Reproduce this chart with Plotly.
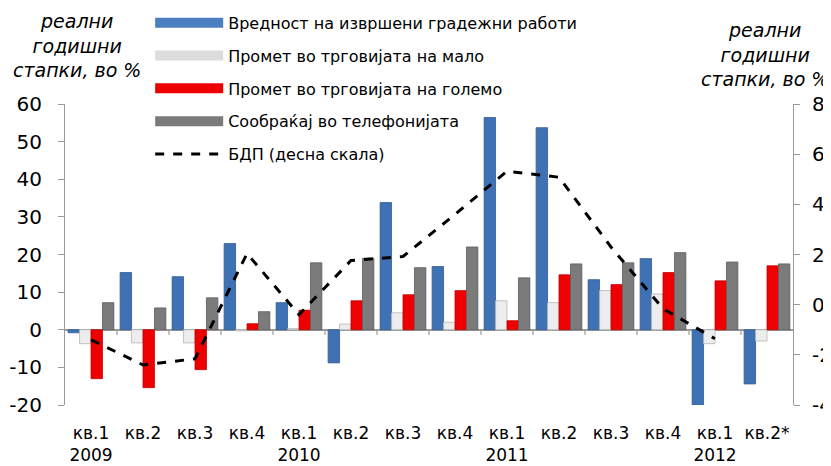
import plotly.graph_objects as go

categories = ["кв.1<br>2009", "кв.2", "кв.3", "кв.4", "кв.1<br>2010", "кв.2", "кв.3", "кв.4",
              "кв.1<br>2011", "кв.2", "кв.3", "кв.4", "кв.1<br>2012", "кв.2*"]
cat_ids = [f"c{i}" for i in range(len(categories))]

construction = [-0.8, 15.2, 14.1, 22.9, 7.2, -8.8, 33.8, 16.8, 56.4, 53.7, 13.3, 18.9, -25.0, -14.4]
retail = [-3.7, -3.5, -3.5, -0.3, 0.3, 1.5, 4.5, 2.0, 7.7, 7.2, 10.4, 9.5, -3.7, -3.0]
wholesale = [-13.0, -15.4, -10.6, 1.6, 5.2, 7.7, 9.3, 10.4, 2.4, 14.6, 12.0, 15.2, 13.0, 17.0]
telephony = [7.2, 5.8, 8.5, 4.8, 17.8, 19.0, 16.5, 22.0, 13.8, 17.5, 17.8, 20.5, 18.0, 17.5]
gdp = [-1.4, -2.4, -2.16, 2.04, -0.4, 1.76, 1.92, 3.6, 5.32, 5.08, 2.3, -0.16, -1.36, None]

left_ticks = [-20, -10, 0, 10, 20, 30, 40, 50, 60]
left_labels = ["-20", "-10", "0", "10", "20", "30", "40", "50", "60"]
right_ticks = [-4, -2, 0, 2, 4, 6, 8]
right_labels = ["-4", "-2", "0", "2", "4", "6", "8"]

names = ["Вредност на извршени градежни работи", "Промет во трговијата на мало",
         "Промет во трговијата на големо", "Сообраќај во телефонијата", "БДП (десна скала)"]

FONT = "DejaVu Sans"
colors = ["#3F72B5", "#EDEDED", "#EE0000", "#7B7B7B"]
legend_colors = ["#4A7FC1", "#DCDCDC", "#EE0000", "#7B7B7B"]
edge = ["#2E5A93", "#B5B5B5", "#C00000", "#5E5E5E"]

fig = go.Figure()
for vals, c, e in zip([construction, retail, wholesale, telephony], colors, edge):
    fig.add_trace(go.Bar(x=cat_ids, y=vals, marker=dict(color=c, line=dict(color=e, width=0.8)),
                         showlegend=False, yaxis="y"))

fig.add_trace(go.Scatter(x=cat_ids, y=gdp, mode="lines", yaxis="y2",
                         line=dict(color="black", width=3, dash="dash"), showlegend=False))

# legend entries
for i, (n, c) in enumerate(zip(names[:4], legend_colors)):
    fig.add_trace(go.Scatter(x=[None], y=[None], mode="lines", name=n, legendgroup=f"g{i}",
                             line=dict(color=c, width=10)))
fig.add_trace(go.Scatter(x=[None], y=[None], mode="lines", name=names[4], legendgroup="g4",
                         line=dict(color="black", width=3, dash="dash")))

# small boundary ticks on the zero line
shapes = []
for i in range(1, len(cat_ids)):
    shapes.append(dict(type="line", xref="x", yref="y", x0=i - 0.5, x1=i - 0.5, y0=0, y1=-1.4,
                       line=dict(color="#9A9A9A", width=1.2)))

# page body has an 8px default margin, so the figure is sized to fit the window
fig.update_layout(
    width=823, height=458,
    margin=dict(l=57, r=38, t=96, b=61, autoexpand=False),
    paper_bgcolor="white", plot_bgcolor="white",
    barmode="group", bargap=0.12, bargroupgap=0,
    font=dict(family=FONT, color="black", size=16),
    xaxis=dict(type="category", tickvals=cat_ids, ticktext=categories, showline=False,
               showgrid=False, zeroline=False, ticks="", tickfont=dict(size=17), ticklabelstandoff=16),
    yaxis=dict(range=[-20, 60], tickvals=left_ticks, ticktext=left_labels, showgrid=False,
               showline=True, linecolor="#9A9A9A",
               linewidth=1.2, ticks="outside", ticklen=6, tickcolor="#9A9A9A",
               zeroline=True, zerolinecolor="#9A9A9A", zerolinewidth=1.5,
               tickfont=dict(size=20), ticklabelstandoff=12),
    yaxis2=dict(range=[-4, 8], tickvals=right_ticks, ticktext=right_labels, overlaying="y",
                side="right", showgrid=False,
                showline=True, linecolor="#9A9A9A", linewidth=1.2, ticks="outside", ticklen=6,
                tickcolor="#9A9A9A", zeroline=False, tickfont=dict(size=20), ticklabelstandoff=8),
    legend=dict(x=0.117, y=1.326, xanchor="left", yanchor="top", bgcolor="rgba(0,0,0,0)",
                itemwidth=68, tracegroupgap=9, font=dict(size=16), traceorder="grouped"),
    shapes=shapes,
    annotations=[
        dict(text="<i>реални<br>годишни<br>стапки, во %</i>", xref="paper", yref="paper",
             x=0.0165, y=1.196, xanchor="center", yanchor="middle", showarrow=False,
             font=dict(size=19)),
        dict(text="<i>реални<br>годишни<br>стапки, во %</i>", xref="paper", yref="paper",
             x=0.962, y=1.163, xanchor="center", yanchor="middle", showarrow=False,
             font=dict(size=19)),
    ],
)

fig.write_html("out.html")
